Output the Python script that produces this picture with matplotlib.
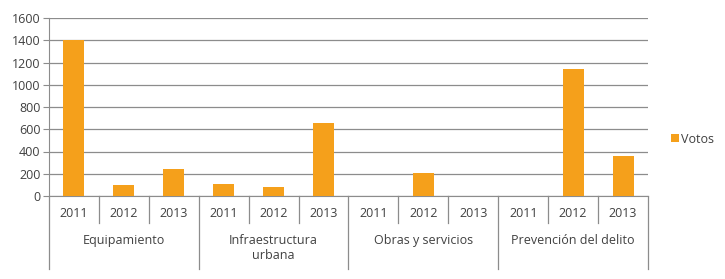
import numpy as np
import matplotlib.pyplot as plt
from matplotlib.lines import Line2D

# --- DATA ---
groups = ['Equipamiento', 'Infraestructura\nurbana', 'Obras y servicios', 'Prevención del delito']
years = ['2011', '2012', '2013']
votos = [1400, 100, 240,
         110, 78, 660,
         0, 205, 0,
         0, 1140, 360]

plt.rcParams['font.family'] = ['Open Sans', 'DejaVu Sans']
TEXT = '#404040'
GRID = '#8c8c8c'

fig = plt.figure(figsize=(7.25, 2.79), dpi=100)
ax = fig.add_axes([49 / 725, 83 / 279, 599 / 725, 178 / 279])

x = np.arange(len(votos))
ax.bar(x, votos, width=0.42, color='#F5A01B', label='Votos', zorder=3)

ax.set_xlim(-0.5, len(votos) - 0.5)
ax.set_ylim(0, 1600)
ax.set_yticks(range(0, 1601, 200))
ax.tick_params(axis='y', length=4, color=GRID, labelsize=9, labelcolor=TEXT, pad=2)
ax.yaxis.grid(True, color=GRID, linewidth=0.9, zorder=0)
ax.set_xticks([])
for s in ['top', 'right']:
    ax.spines[s].set_visible(False)
ax.spines['left'].set_color(GRID)
ax.spines['bottom'].set_color(GRID)

# multi-level category axis
tr = ax.get_xaxis_transform()
for i in range(len(votos)):
    ax.text(i, -0.10, years[i % 3], transform=tr, ha='center', va='center',
            fontsize=9, color=TEXT)
for b in range(len(votos) + 1):
    xb = b - 0.5
    low = -0.41 if b % 3 == 0 else -0.152
    ax.add_line(Line2D([xb, xb], [0, low], transform=tr, color=GRID,
                       linewidth=0.9, clip_on=False))
for g, name in enumerate(groups):
    ax.text(g * 3 + 1, -0.215, name, transform=tr, ha='center', va='top',
            fontsize=9, color=TEXT, linespacing=1.2)

ax.legend(loc='center left', bbox_to_anchor=(1.02, 0.32), frameon=False,
          fontsize=9, handlelength=0.6, handleheight=0.6, handletextpad=0.2,
          labelcolor=TEXT)

fig.savefig('out.png', dpi=100)
